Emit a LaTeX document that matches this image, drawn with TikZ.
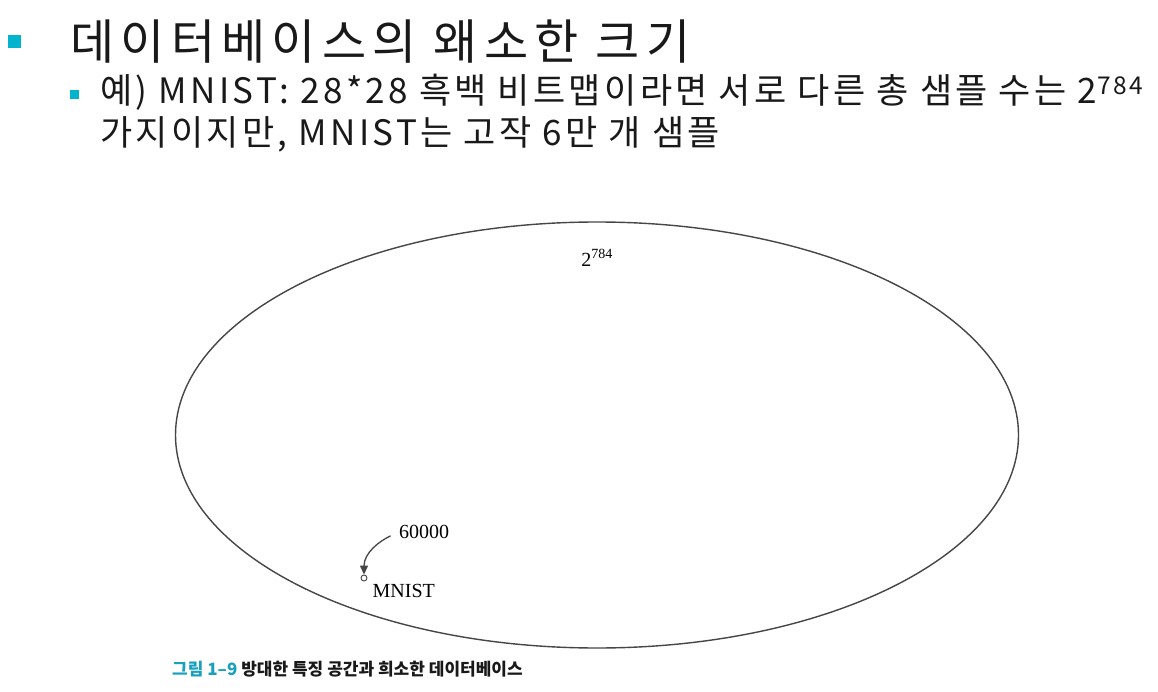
\documentclass[tikz,border=0pt]{standalone}
\usepackage{fontspec}
\setmainfont{Liberation Serif}
\newfontfamily\kr{Noto Sans CJK KR}
\newfontfamily\krtitle{Noto Sans CJK KR}[LetterSpace=13]
\newfontfamily\krwide{Noto Sans CJK KR}[LetterSpace=9.5]
\usetikzlibrary{arrows.meta,positioning,shapes.geometric}
\definecolor{bulletcyan}{RGB}{0,180,205}
\definecolor{capcyan}{RGB}{25,160,190}
\definecolor{linegray}{RGB}{70,70,70}

\begin{document}
\begin{tikzpicture}[x=1pt,y=-1pt,
    bullet/.style={fill=bulletcyan, inner sep=0pt},
    slide/.style={anchor=base west, inner sep=0pt, text=black!90},
    figtext/.style={inner sep=0pt, font=\fontsize{20}{24}\selectfont}]
  \useasboundingbox[fill=white] (0,0) rectangle (1158,692);
  % slide text
  \node[bullet, minimum size=13pt] (b1) at (14,42) {};
  \node[slide, font=\krtitle\fontsize{48}{56}\selectfont] (title) at (70,60) {데이터베이스의 왜소한 크기};
  \node[bullet, minimum size=9pt] (b2) at (74,95) {};
  \node[slide, font=\krwide\fontsize{35}{40}\selectfont] (line1) at (100,104) {예) MNIST: 28*28 흑백 비트맵이라면 서로 다른 총 샘플 수는 2\textsuperscript{784}};
  \node[slide, font=\krwide\fontsize{35}{40}\selectfont] (line2) at (100,146) {가지이지만, MNIST는 고작 6만 개 샘플};
  % feature space
  \node[draw=linegray, line width=1.4pt, ellipse, minimum width=843pt, minimum height=426pt, inner sep=0pt] (space) at (597,435) {};
  \node[figtext, below=28pt of space.north] (total) {2\textsuperscript{784}};
  \node[circle, draw=linegray, line width=0.9pt, inner sep=0pt, minimum size=6pt] (pt) at (364,578) {};
  \node[figtext, below right=4pt and 6pt of pt] (mnist) {MNIST};
  \node[figtext] (count) at (424,532) {60000};
  \draw[linegray, line width=1.3pt, shorten <=9pt, -{Triangle[length=9pt,width=8pt]}] (count.west) to[out=205,in=90] (pt.north);
  % caption
  \node[slide, font=\kr\bfseries\fontsize{17}{20}\selectfont] (caption) at (172,675) {\textcolor{capcyan}{그림 1–9}\ 방대한 특징 공간과 희소한 데이터베이스};
\end{tikzpicture}
\end{document}
